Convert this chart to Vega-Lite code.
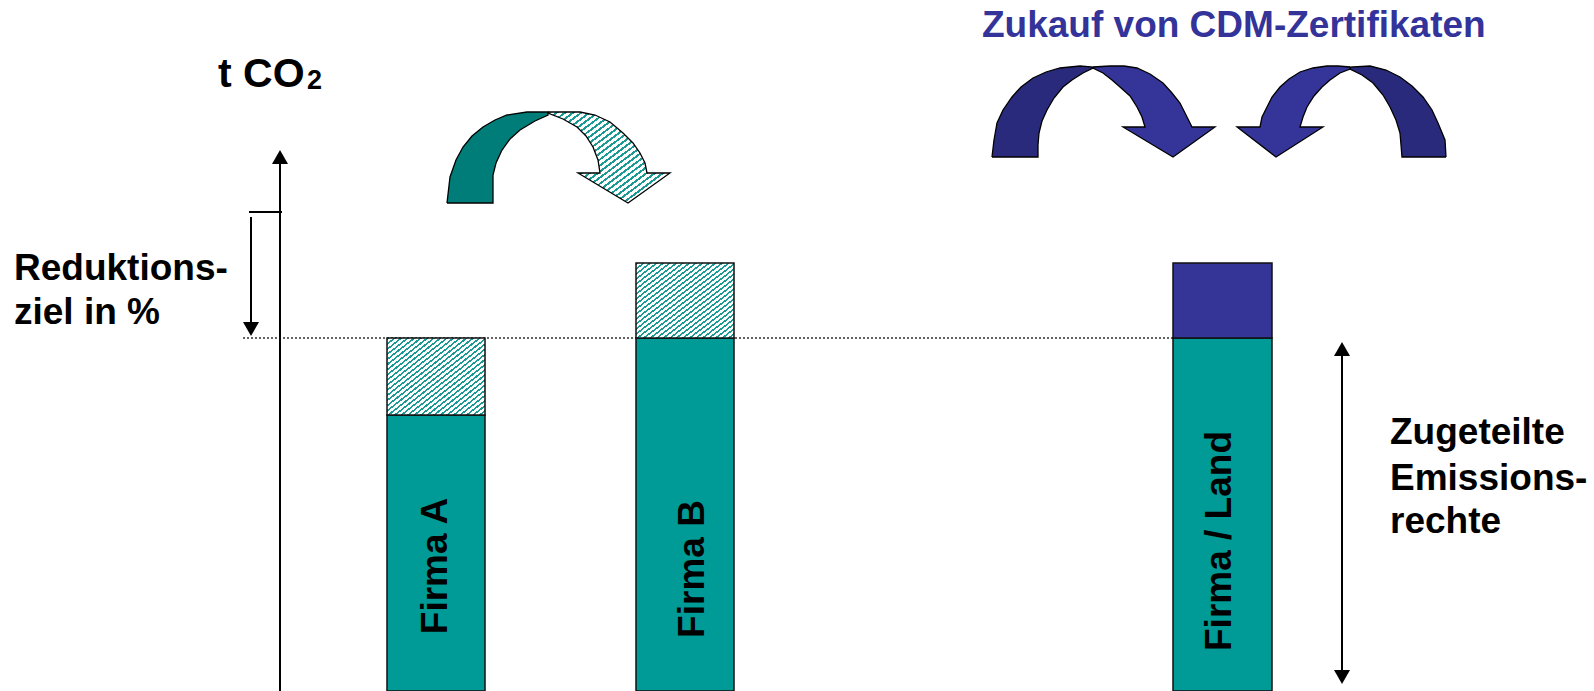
{
  "$schema": "https://vega.github.io/schema/vega-lite/v6.json",
  "width": 1594,
  "height": 691,
  "autosize": "none",
  "padding": 0,
  "background": "white",
  "config": {"view": {"stroke": null}},
  "datasets": {
    "bars": [
      {"name": "Firma A", "kind": "teal", "x": 387, "x2": 485, "y": 0, "y2": 276},
      {"name": "Firma A", "kind": "hatch", "x": 387, "x2": 485, "y": 276, "y2": 353},
      {"name": "Firma B", "kind": "teal", "x": 636, "x2": 734, "y": 0, "y2": 353},
      {"name": "Firma B", "kind": "hatch", "x": 636, "x2": 734, "y": 353, "y2": 428},
      {"name": "Firma / Land", "kind": "teal", "x": 1173, "x2": 1272, "y": 0, "y2": 353},
      {"name": "Firma / Land", "kind": "blue", "x": 1173, "x2": 1272, "y": 353, "y2": 428}
    ],
    "lines": [
      {"kind": "solid", "x": 280, "x2": 280, "y": 0, "y2": 530},
      {"kind": "solid", "x": 249, "x2": 282, "y": 479, "y2": 479},
      {"kind": "solid", "x": 251, "x2": 251, "y": 474, "y2": 360},
      {"kind": "solid", "x": 1342, "x2": 1342, "y": 340, "y2": 16},
      {"kind": "dotted", "x": 243, "x2": 1173, "y": 353, "y2": 353}
    ],
    "heads": [
      {"dir": "up", "x": 280, "y": 534},
      {"dir": "down", "x": 251, "y": 362},
      {"dir": "up", "x": 1342, "y": 342},
      {"dir": "down", "x": 1342, "y": 14}
    ],
    "arrows": [
      {"role": "tealBack", "part": "t1", "i": 0, "x": 447, "y": 488},
      {"role": "tealBack", "part": "t1", "i": 1, "x": 450, "y": 514},
      {"role": "tealBack", "part": "t1", "i": 2, "x": 456, "y": 531},
      {"role": "tealBack", "part": "t1", "i": 3, "x": 463, "y": 544},
      {"role": "tealBack", "part": "t1", "i": 4, "x": 472, "y": 555},
      {"role": "tealBack", "part": "t1", "i": 5, "x": 483, "y": 564},
      {"role": "tealBack", "part": "t1", "i": 6, "x": 495, "y": 571},
      {"role": "tealBack", "part": "t1", "i": 7, "x": 507, "y": 576},
      {"role": "tealBack", "part": "t1", "i": 8, "x": 527, "y": 579},
      {"role": "tealBack", "part": "t1", "i": 9, "x": 548, "y": 579},
      {"role": "tealBack", "part": "t1", "i": 10, "x": 548, "y": 576},
      {"role": "tealBack", "part": "t1", "i": 11, "x": 535, "y": 570},
      {"role": "tealBack", "part": "t1", "i": 12, "x": 520, "y": 561},
      {"role": "tealBack", "part": "t1", "i": 13, "x": 510, "y": 552},
      {"role": "tealBack", "part": "t1", "i": 14, "x": 502, "y": 541},
      {"role": "tealBack", "part": "t1", "i": 15, "x": 496, "y": 528},
      {"role": "tealBack", "part": "t1", "i": 16, "x": 493, "y": 516},
      {"role": "tealBack", "part": "t1", "i": 17, "x": 493, "y": 488},
      {"role": "tealBack", "part": "t1", "i": 18, "x": 447, "y": 488},
      {"role": "tealFront", "part": "t2", "i": 0, "x": 548, "y": 579},
      {"role": "tealFront", "part": "t2", "i": 1, "x": 565, "y": 579},
      {"role": "tealFront", "part": "t2", "i": 2, "x": 580, "y": 579},
      {"role": "tealFront", "part": "t2", "i": 3, "x": 595, "y": 576},
      {"role": "tealFront", "part": "t2", "i": 4, "x": 610, "y": 569},
      {"role": "tealFront", "part": "t2", "i": 5, "x": 623, "y": 558},
      {"role": "tealFront", "part": "t2", "i": 6, "x": 633, "y": 548},
      {"role": "tealFront", "part": "t2", "i": 7, "x": 640, "y": 538},
      {"role": "tealFront", "part": "t2", "i": 8, "x": 645, "y": 528},
      {"role": "tealFront", "part": "t2", "i": 9, "x": 647, "y": 518},
      {"role": "tealFront", "part": "t2", "i": 10, "x": 670, "y": 518},
      {"role": "tealFront", "part": "t2", "i": 11, "x": 628, "y": 488},
      {"role": "tealFront", "part": "t2", "i": 12, "x": 578, "y": 518},
      {"role": "tealFront", "part": "t2", "i": 13, "x": 600, "y": 518},
      {"role": "tealFront", "part": "t2", "i": 14, "x": 598, "y": 531},
      {"role": "tealFront", "part": "t2", "i": 15, "x": 593, "y": 544},
      {"role": "tealFront", "part": "t2", "i": 16, "x": 586, "y": 555},
      {"role": "tealFront", "part": "t2", "i": 17, "x": 577, "y": 564},
      {"role": "tealFront", "part": "t2", "i": 18, "x": 563, "y": 572},
      {"role": "tealFront", "part": "t2", "i": 19, "x": 548, "y": 578},
      {"role": "tealFront", "part": "t2", "i": 20, "x": 548, "y": 579},
      {"role": "blueBack", "part": "bL1", "i": 0, "x": 992, "y": 534},
      {"role": "blueBack", "part": "bL1", "i": 1, "x": 994, "y": 551},
      {"role": "blueBack", "part": "bL1", "i": 2, "x": 997, "y": 568},
      {"role": "blueBack", "part": "bL1", "i": 3, "x": 1003, "y": 581},
      {"role": "blueBack", "part": "bL1", "i": 4, "x": 1012, "y": 594},
      {"role": "blueBack", "part": "bL1", "i": 5, "x": 1021, "y": 604},
      {"role": "blueBack", "part": "bL1", "i": 6, "x": 1033, "y": 613},
      {"role": "blueBack", "part": "bL1", "i": 7, "x": 1046, "y": 619},
      {"role": "blueBack", "part": "bL1", "i": 8, "x": 1060, "y": 623},
      {"role": "blueBack", "part": "bL1", "i": 9, "x": 1080, "y": 625},
      {"role": "blueBack", "part": "bL1", "i": 10, "x": 1093, "y": 624},
      {"role": "blueBack", "part": "bL1", "i": 11, "x": 1093, "y": 623},
      {"role": "blueBack", "part": "bL1", "i": 12, "x": 1083, "y": 618},
      {"role": "blueBack", "part": "bL1", "i": 13, "x": 1072, "y": 611},
      {"role": "blueBack", "part": "bL1", "i": 14, "x": 1063, "y": 604},
      {"role": "blueBack", "part": "bL1", "i": 15, "x": 1054, "y": 593},
      {"role": "blueBack", "part": "bL1", "i": 16, "x": 1047, "y": 581},
      {"role": "blueBack", "part": "bL1", "i": 17, "x": 1042, "y": 570},
      {"role": "blueBack", "part": "bL1", "i": 18, "x": 1039, "y": 558},
      {"role": "blueBack", "part": "bL1", "i": 19, "x": 1038, "y": 546},
      {"role": "blueBack", "part": "bL1", "i": 20, "x": 1038, "y": 534},
      {"role": "blueBack", "part": "bL1", "i": 21, "x": 992, "y": 534},
      {"role": "blueFront", "part": "bL2", "i": 0, "x": 1093, "y": 624},
      {"role": "blueFront", "part": "bL2", "i": 1, "x": 1110, "y": 625},
      {"role": "blueFront", "part": "bL2", "i": 2, "x": 1124, "y": 625},
      {"role": "blueFront", "part": "bL2", "i": 3, "x": 1137, "y": 623},
      {"role": "blueFront", "part": "bL2", "i": 4, "x": 1150, "y": 617},
      {"role": "blueFront", "part": "bL2", "i": 5, "x": 1163, "y": 608},
      {"role": "blueFront", "part": "bL2", "i": 6, "x": 1172, "y": 598},
      {"role": "blueFront", "part": "bL2", "i": 7, "x": 1180, "y": 588},
      {"role": "blueFront", "part": "bL2", "i": 8, "x": 1186, "y": 576},
      {"role": "blueFront", "part": "bL2", "i": 9, "x": 1192, "y": 564},
      {"role": "blueFront", "part": "bL2", "i": 10, "x": 1215, "y": 564},
      {"role": "blueFront", "part": "bL2", "i": 11, "x": 1173, "y": 534},
      {"role": "blueFront", "part": "bL2", "i": 12, "x": 1123, "y": 564},
      {"role": "blueFront", "part": "bL2", "i": 13, "x": 1145, "y": 564},
      {"role": "blueFront", "part": "bL2", "i": 14, "x": 1142, "y": 574},
      {"role": "blueFront", "part": "bL2", "i": 15, "x": 1137, "y": 584},
      {"role": "blueFront", "part": "bL2", "i": 16, "x": 1130, "y": 595},
      {"role": "blueFront", "part": "bL2", "i": 17, "x": 1120, "y": 604},
      {"role": "blueFront", "part": "bL2", "i": 18, "x": 1112, "y": 611},
      {"role": "blueFront", "part": "bL2", "i": 19, "x": 1103, "y": 618},
      {"role": "blueFront", "part": "bL2", "i": 20, "x": 1093, "y": 623},
      {"role": "blueFront", "part": "bL2", "i": 21, "x": 1093, "y": 624},
      {"role": "blueBack", "part": "bR1", "i": 0, "x": 1446, "y": 534},
      {"role": "blueBack", "part": "bR1", "i": 1, "x": 1445, "y": 551},
      {"role": "blueBack", "part": "bR1", "i": 2, "x": 1438, "y": 568},
      {"role": "blueBack", "part": "bR1", "i": 3, "x": 1432, "y": 581},
      {"role": "blueBack", "part": "bR1", "i": 4, "x": 1423, "y": 594},
      {"role": "blueBack", "part": "bR1", "i": 5, "x": 1412, "y": 605},
      {"role": "blueBack", "part": "bR1", "i": 6, "x": 1400, "y": 614},
      {"role": "blueBack", "part": "bR1", "i": 7, "x": 1386, "y": 621},
      {"role": "blueBack", "part": "bR1", "i": 8, "x": 1370, "y": 625},
      {"role": "blueBack", "part": "bR1", "i": 9, "x": 1350, "y": 624},
      {"role": "blueBack", "part": "bR1", "i": 10, "x": 1350, "y": 622},
      {"role": "blueBack", "part": "bR1", "i": 11, "x": 1362, "y": 616},
      {"role": "blueBack", "part": "bR1", "i": 12, "x": 1373, "y": 608},
      {"role": "blueBack", "part": "bR1", "i": 13, "x": 1383, "y": 596},
      {"role": "blueBack", "part": "bR1", "i": 14, "x": 1390, "y": 584},
      {"role": "blueBack", "part": "bR1", "i": 15, "x": 1396, "y": 571},
      {"role": "blueBack", "part": "bR1", "i": 16, "x": 1400, "y": 558},
      {"role": "blueBack", "part": "bR1", "i": 17, "x": 1401, "y": 546},
      {"role": "blueBack", "part": "bR1", "i": 18, "x": 1402, "y": 534},
      {"role": "blueBack", "part": "bR1", "i": 19, "x": 1446, "y": 534},
      {"role": "blueFront", "part": "bR2", "i": 0, "x": 1350, "y": 624},
      {"role": "blueFront", "part": "bR2", "i": 1, "x": 1338, "y": 625},
      {"role": "blueFront", "part": "bR2", "i": 2, "x": 1327, "y": 625},
      {"role": "blueFront", "part": "bR2", "i": 3, "x": 1313, "y": 623},
      {"role": "blueFront", "part": "bR2", "i": 4, "x": 1300, "y": 619},
      {"role": "blueFront", "part": "bR2", "i": 5, "x": 1289, "y": 612},
      {"role": "blueFront", "part": "bR2", "i": 6, "x": 1280, "y": 604},
      {"role": "blueFront", "part": "bR2", "i": 7, "x": 1272, "y": 594},
      {"role": "blueFront", "part": "bR2", "i": 8, "x": 1267, "y": 584},
      {"role": "blueFront", "part": "bR2", "i": 9, "x": 1262, "y": 574},
      {"role": "blueFront", "part": "bR2", "i": 10, "x": 1260, "y": 564},
      {"role": "blueFront", "part": "bR2", "i": 11, "x": 1237, "y": 564},
      {"role": "blueFront", "part": "bR2", "i": 12, "x": 1276, "y": 534},
      {"role": "blueFront", "part": "bR2", "i": 13, "x": 1323, "y": 564},
      {"role": "blueFront", "part": "bR2", "i": 14, "x": 1300, "y": 564},
      {"role": "blueFront", "part": "bR2", "i": 15, "x": 1303, "y": 574},
      {"role": "blueFront", "part": "bR2", "i": 16, "x": 1307, "y": 584},
      {"role": "blueFront", "part": "bR2", "i": 17, "x": 1314, "y": 595},
      {"role": "blueFront", "part": "bR2", "i": 18, "x": 1322, "y": 604},
      {"role": "blueFront", "part": "bR2", "i": 19, "x": 1330, "y": 611},
      {"role": "blueFront", "part": "bR2", "i": 20, "x": 1340, "y": 618},
      {"role": "blueFront", "part": "bR2", "i": 21, "x": 1350, "y": 622},
      {"role": "blueFront", "part": "bR2", "i": 22, "x": 1350, "y": 624}
    ],
    "labels": [
      {"kind": "note", "text": "Reduktions-", "x": 14, "y": 411},
      {"kind": "note", "text": "ziel in %", "x": 14, "y": 367},
      {"kind": "note", "text": "Zugeteilte", "x": 1390, "y": 247},
      {"kind": "note", "text": "Emissions-", "x": 1390, "y": 201},
      {"kind": "note", "text": "rechte", "x": 1390, "y": 158},
      {"kind": "axis", "text": "t CO", "x": 218, "y": 604},
      {"kind": "sub", "text": "2", "x": 307, "y": 602},
      {"kind": "title", "text": "Zukauf von CDM-Zertifikaten", "x": 982, "y": 654},
      {"kind": "bar", "text": "Firma A", "x": 436, "y": 125},
      {"kind": "bar", "text": "Firma B", "x": 693, "y": 122},
      {"kind": "bar", "text": "Firma / Land", "x": 1220, "y": 150}
    ]
  },
  "encoding": {
    "x": {"field": "x", "type": "quantitative", "scale": {"domain": [0, 1594], "nice": false, "zero": false}, "axis": null},
    "y": {"field": "y", "type": "quantitative", "scale": {"domain": [0, 691], "nice": false, "zero": false}, "axis": null}
  },
  "layer": [
    {
      "data": {"name": "lines"},
      "transform": [{"filter": "datum.kind === 'dotted'"}],
      "mark": {"type": "rule", "stroke": "#333333", "strokeWidth": 1.3, "strokeDash": [2, 2]},
      "encoding": {"x2": {"field": "x2"}, "y2": {"field": "y2"}}
    },
    {
      "data": {"name": "bars"},
      "transform": [{"filter": "datum.kind !== 'hatch'"}],
      "mark": {"type": "rect", "stroke": "#111111", "strokeWidth": 1.5},
      "encoding": {
        "x2": {"field": "x2"},
        "y2": {"field": "y2"},
        "fill": {"field": "kind", "type": "nominal", "scale": {"domain": ["teal", "blue"], "range": ["#009a97", "#343597"]}, "legend": null}
      }
    },
    {
      "data": {"name": "bars"},
      "transform": [{"filter": "datum.kind === 'hatch'"}],
      "mark": {
        "type": "rect", "stroke": "#111111", "strokeWidth": 1.5,
        "fill": {"gradient": "linear", "x1": 0, "y1": 0, "x2": 1, "y2": 1, "stops": [
          {"offset": 0, "color": "#1a9995"}, {"offset": 0.0133, "color": "#1a9995"}, {"offset": 0.0133, "color": "#ffffff"}, {"offset": 0.0333, "color": "#ffffff"},
          {"offset": 0.0333, "color": "#1a9995"}, {"offset": 0.0467, "color": "#1a9995"}, {"offset": 0.0467, "color": "#ffffff"}, {"offset": 0.0667, "color": "#ffffff"},
          {"offset": 0.0667, "color": "#1a9995"}, {"offset": 0.08, "color": "#1a9995"}, {"offset": 0.08, "color": "#ffffff"}, {"offset": 0.1, "color": "#ffffff"},
          {"offset": 0.1, "color": "#1a9995"}, {"offset": 0.1133, "color": "#1a9995"}, {"offset": 0.1133, "color": "#ffffff"}, {"offset": 0.1333, "color": "#ffffff"},
          {"offset": 0.1333, "color": "#1a9995"}, {"offset": 0.1467, "color": "#1a9995"}, {"offset": 0.1467, "color": "#ffffff"}, {"offset": 0.1667, "color": "#ffffff"},
          {"offset": 0.1667, "color": "#1a9995"}, {"offset": 0.18, "color": "#1a9995"}, {"offset": 0.18, "color": "#ffffff"}, {"offset": 0.2, "color": "#ffffff"},
          {"offset": 0.2, "color": "#1a9995"}, {"offset": 0.2133, "color": "#1a9995"}, {"offset": 0.2133, "color": "#ffffff"}, {"offset": 0.2333, "color": "#ffffff"},
          {"offset": 0.2333, "color": "#1a9995"}, {"offset": 0.2467, "color": "#1a9995"}, {"offset": 0.2467, "color": "#ffffff"}, {"offset": 0.2667, "color": "#ffffff"},
          {"offset": 0.2667, "color": "#1a9995"}, {"offset": 0.28, "color": "#1a9995"}, {"offset": 0.28, "color": "#ffffff"}, {"offset": 0.3, "color": "#ffffff"},
          {"offset": 0.3, "color": "#1a9995"}, {"offset": 0.3133, "color": "#1a9995"}, {"offset": 0.3133, "color": "#ffffff"}, {"offset": 0.3333, "color": "#ffffff"},
          {"offset": 0.3333, "color": "#1a9995"}, {"offset": 0.3467, "color": "#1a9995"}, {"offset": 0.3467, "color": "#ffffff"}, {"offset": 0.3667, "color": "#ffffff"},
          {"offset": 0.3667, "color": "#1a9995"}, {"offset": 0.38, "color": "#1a9995"}, {"offset": 0.38, "color": "#ffffff"}, {"offset": 0.4, "color": "#ffffff"},
          {"offset": 0.4, "color": "#1a9995"}, {"offset": 0.4133, "color": "#1a9995"}, {"offset": 0.4133, "color": "#ffffff"}, {"offset": 0.4333, "color": "#ffffff"},
          {"offset": 0.4333, "color": "#1a9995"}, {"offset": 0.4467, "color": "#1a9995"}, {"offset": 0.4467, "color": "#ffffff"}, {"offset": 0.4667, "color": "#ffffff"},
          {"offset": 0.4667, "color": "#1a9995"}, {"offset": 0.48, "color": "#1a9995"}, {"offset": 0.48, "color": "#ffffff"}, {"offset": 0.5, "color": "#ffffff"},
          {"offset": 0.5, "color": "#1a9995"}, {"offset": 0.5133, "color": "#1a9995"}, {"offset": 0.5133, "color": "#ffffff"}, {"offset": 0.5333, "color": "#ffffff"},
          {"offset": 0.5333, "color": "#1a9995"}, {"offset": 0.5467, "color": "#1a9995"}, {"offset": 0.5467, "color": "#ffffff"}, {"offset": 0.5667, "color": "#ffffff"},
          {"offset": 0.5667, "color": "#1a9995"}, {"offset": 0.58, "color": "#1a9995"}, {"offset": 0.58, "color": "#ffffff"}, {"offset": 0.6, "color": "#ffffff"},
          {"offset": 0.6, "color": "#1a9995"}, {"offset": 0.6133, "color": "#1a9995"}, {"offset": 0.6133, "color": "#ffffff"}, {"offset": 0.6333, "color": "#ffffff"},
          {"offset": 0.6333, "color": "#1a9995"}, {"offset": 0.6467, "color": "#1a9995"}, {"offset": 0.6467, "color": "#ffffff"}, {"offset": 0.6667, "color": "#ffffff"},
          {"offset": 0.6667, "color": "#1a9995"}, {"offset": 0.68, "color": "#1a9995"}, {"offset": 0.68, "color": "#ffffff"}, {"offset": 0.7, "color": "#ffffff"},
          {"offset": 0.7, "color": "#1a9995"}, {"offset": 0.7133, "color": "#1a9995"}, {"offset": 0.7133, "color": "#ffffff"}, {"offset": 0.7333, "color": "#ffffff"},
          {"offset": 0.7333, "color": "#1a9995"}, {"offset": 0.7467, "color": "#1a9995"}, {"offset": 0.7467, "color": "#ffffff"}, {"offset": 0.7667, "color": "#ffffff"},
          {"offset": 0.7667, "color": "#1a9995"}, {"offset": 0.78, "color": "#1a9995"}, {"offset": 0.78, "color": "#ffffff"}, {"offset": 0.8, "color": "#ffffff"},
          {"offset": 0.8, "color": "#1a9995"}, {"offset": 0.8133, "color": "#1a9995"}, {"offset": 0.8133, "color": "#ffffff"}, {"offset": 0.8333, "color": "#ffffff"},
          {"offset": 0.8333, "color": "#1a9995"}, {"offset": 0.8467, "color": "#1a9995"}, {"offset": 0.8467, "color": "#ffffff"}, {"offset": 0.8667, "color": "#ffffff"},
          {"offset": 0.8667, "color": "#1a9995"}, {"offset": 0.88, "color": "#1a9995"}, {"offset": 0.88, "color": "#ffffff"}, {"offset": 0.9, "color": "#ffffff"},
          {"offset": 0.9, "color": "#1a9995"}, {"offset": 0.9133, "color": "#1a9995"}, {"offset": 0.9133, "color": "#ffffff"}, {"offset": 0.9333, "color": "#ffffff"},
          {"offset": 0.9333, "color": "#1a9995"}, {"offset": 0.9467, "color": "#1a9995"}, {"offset": 0.9467, "color": "#ffffff"}, {"offset": 0.9667, "color": "#ffffff"},
          {"offset": 0.9667, "color": "#1a9995"}, {"offset": 0.98, "color": "#1a9995"}, {"offset": 0.98, "color": "#ffffff"}, {"offset": 1, "color": "#ffffff"}
        ]}
      },
      "encoding": {"x2": {"field": "x2"}, "y2": {"field": "y2"}}
    },
    {
      "data": {"name": "lines"},
      "transform": [{"filter": "datum.kind === 'solid'"}],
      "mark": {"type": "rule", "stroke": "#000000", "strokeWidth": 2},
      "encoding": {"x2": {"field": "x2"}, "y2": {"field": "y2"}}
    },
    {
      "data": {"name": "heads"},
      "mark": {"type": "point", "filled": true, "fill": "#000000", "stroke": null, "size": 256, "opacity": 1},
      "encoding": {
        "shape": {"field": "dir", "type": "nominal", "scale": {"domain": ["up", "down"], "range": ["triangle-up", "triangle-down"]}, "legend": null}
      }
    },
    {
      "data": {"name": "arrows"},
      "transform": [{"filter": "datum.role === 'tealBack'"}],
      "mark": {"type": "line", "fill": "#007c79", "stroke": "#000000", "strokeWidth": 1.3, "strokeJoin": "miter"},
      "encoding": {"order": {"field": "i", "type": "quantitative"}, "detail": {"field": "part"}}
    },
    {
      "data": {"name": "arrows"},
      "transform": [{"filter": "datum.role === 'tealFront'"}],
      "mark": {
        "type": "line", "stroke": "#000000", "strokeWidth": 1.3, "strokeJoin": "miter",
        "fill": {"gradient": "linear", "x1": 0, "y1": 0, "x2": 1, "y2": 1, "stops": [
          {"offset": 0, "color": "#1a9995"}, {"offset": 0.0133, "color": "#1a9995"}, {"offset": 0.0133, "color": "#ffffff"}, {"offset": 0.0333, "color": "#ffffff"},
          {"offset": 0.0333, "color": "#1a9995"}, {"offset": 0.0467, "color": "#1a9995"}, {"offset": 0.0467, "color": "#ffffff"}, {"offset": 0.0667, "color": "#ffffff"},
          {"offset": 0.0667, "color": "#1a9995"}, {"offset": 0.08, "color": "#1a9995"}, {"offset": 0.08, "color": "#ffffff"}, {"offset": 0.1, "color": "#ffffff"},
          {"offset": 0.1, "color": "#1a9995"}, {"offset": 0.1133, "color": "#1a9995"}, {"offset": 0.1133, "color": "#ffffff"}, {"offset": 0.1333, "color": "#ffffff"},
          {"offset": 0.1333, "color": "#1a9995"}, {"offset": 0.1467, "color": "#1a9995"}, {"offset": 0.1467, "color": "#ffffff"}, {"offset": 0.1667, "color": "#ffffff"},
          {"offset": 0.1667, "color": "#1a9995"}, {"offset": 0.18, "color": "#1a9995"}, {"offset": 0.18, "color": "#ffffff"}, {"offset": 0.2, "color": "#ffffff"},
          {"offset": 0.2, "color": "#1a9995"}, {"offset": 0.2133, "color": "#1a9995"}, {"offset": 0.2133, "color": "#ffffff"}, {"offset": 0.2333, "color": "#ffffff"},
          {"offset": 0.2333, "color": "#1a9995"}, {"offset": 0.2467, "color": "#1a9995"}, {"offset": 0.2467, "color": "#ffffff"}, {"offset": 0.2667, "color": "#ffffff"},
          {"offset": 0.2667, "color": "#1a9995"}, {"offset": 0.28, "color": "#1a9995"}, {"offset": 0.28, "color": "#ffffff"}, {"offset": 0.3, "color": "#ffffff"},
          {"offset": 0.3, "color": "#1a9995"}, {"offset": 0.3133, "color": "#1a9995"}, {"offset": 0.3133, "color": "#ffffff"}, {"offset": 0.3333, "color": "#ffffff"},
          {"offset": 0.3333, "color": "#1a9995"}, {"offset": 0.3467, "color": "#1a9995"}, {"offset": 0.3467, "color": "#ffffff"}, {"offset": 0.3667, "color": "#ffffff"},
          {"offset": 0.3667, "color": "#1a9995"}, {"offset": 0.38, "color": "#1a9995"}, {"offset": 0.38, "color": "#ffffff"}, {"offset": 0.4, "color": "#ffffff"},
          {"offset": 0.4, "color": "#1a9995"}, {"offset": 0.4133, "color": "#1a9995"}, {"offset": 0.4133, "color": "#ffffff"}, {"offset": 0.4333, "color": "#ffffff"},
          {"offset": 0.4333, "color": "#1a9995"}, {"offset": 0.4467, "color": "#1a9995"}, {"offset": 0.4467, "color": "#ffffff"}, {"offset": 0.4667, "color": "#ffffff"},
          {"offset": 0.4667, "color": "#1a9995"}, {"offset": 0.48, "color": "#1a9995"}, {"offset": 0.48, "color": "#ffffff"}, {"offset": 0.5, "color": "#ffffff"},
          {"offset": 0.5, "color": "#1a9995"}, {"offset": 0.5133, "color": "#1a9995"}, {"offset": 0.5133, "color": "#ffffff"}, {"offset": 0.5333, "color": "#ffffff"},
          {"offset": 0.5333, "color": "#1a9995"}, {"offset": 0.5467, "color": "#1a9995"}, {"offset": 0.5467, "color": "#ffffff"}, {"offset": 0.5667, "color": "#ffffff"},
          {"offset": 0.5667, "color": "#1a9995"}, {"offset": 0.58, "color": "#1a9995"}, {"offset": 0.58, "color": "#ffffff"}, {"offset": 0.6, "color": "#ffffff"},
          {"offset": 0.6, "color": "#1a9995"}, {"offset": 0.6133, "color": "#1a9995"}, {"offset": 0.6133, "color": "#ffffff"}, {"offset": 0.6333, "color": "#ffffff"},
          {"offset": 0.6333, "color": "#1a9995"}, {"offset": 0.6467, "color": "#1a9995"}, {"offset": 0.6467, "color": "#ffffff"}, {"offset": 0.6667, "color": "#ffffff"},
          {"offset": 0.6667, "color": "#1a9995"}, {"offset": 0.68, "color": "#1a9995"}, {"offset": 0.68, "color": "#ffffff"}, {"offset": 0.7, "color": "#ffffff"},
          {"offset": 0.7, "color": "#1a9995"}, {"offset": 0.7133, "color": "#1a9995"}, {"offset": 0.7133, "color": "#ffffff"}, {"offset": 0.7333, "color": "#ffffff"},
          {"offset": 0.7333, "color": "#1a9995"}, {"offset": 0.7467, "color": "#1a9995"}, {"offset": 0.7467, "color": "#ffffff"}, {"offset": 0.7667, "color": "#ffffff"},
          {"offset": 0.7667, "color": "#1a9995"}, {"offset": 0.78, "color": "#1a9995"}, {"offset": 0.78, "color": "#ffffff"}, {"offset": 0.8, "color": "#ffffff"},
          {"offset": 0.8, "color": "#1a9995"}, {"offset": 0.8133, "color": "#1a9995"}, {"offset": 0.8133, "color": "#ffffff"}, {"offset": 0.8333, "color": "#ffffff"},
          {"offset": 0.8333, "color": "#1a9995"}, {"offset": 0.8467, "color": "#1a9995"}, {"offset": 0.8467, "color": "#ffffff"}, {"offset": 0.8667, "color": "#ffffff"},
          {"offset": 0.8667, "color": "#1a9995"}, {"offset": 0.88, "color": "#1a9995"}, {"offset": 0.88, "color": "#ffffff"}, {"offset": 0.9, "color": "#ffffff"},
          {"offset": 0.9, "color": "#1a9995"}, {"offset": 0.9133, "color": "#1a9995"}, {"offset": 0.9133, "color": "#ffffff"}, {"offset": 0.9333, "color": "#ffffff"},
          {"offset": 0.9333, "color": "#1a9995"}, {"offset": 0.9467, "color": "#1a9995"}, {"offset": 0.9467, "color": "#ffffff"}, {"offset": 0.9667, "color": "#ffffff"},
          {"offset": 0.9667, "color": "#1a9995"}, {"offset": 0.98, "color": "#1a9995"}, {"offset": 0.98, "color": "#ffffff"}, {"offset": 1, "color": "#ffffff"}
        ]}
      },
      "encoding": {"order": {"field": "i", "type": "quantitative"}, "detail": {"field": "part"}}
    },
    {
      "data": {"name": "arrows"},
      "transform": [{"filter": "datum.role === 'blueBack'"}],
      "mark": {"type": "line", "fill": "#2a2a7c", "stroke": "#000000", "strokeWidth": 1.3, "strokeJoin": "miter"},
      "encoding": {"order": {"field": "i", "type": "quantitative"}, "detail": {"field": "part"}}
    },
    {
      "data": {"name": "arrows"},
      "transform": [{"filter": "datum.role === 'blueFront'"}],
      "mark": {"type": "line", "fill": "#353599", "stroke": "#000000", "strokeWidth": 1.3, "strokeJoin": "miter"},
      "encoding": {"order": {"field": "i", "type": "quantitative"}, "detail": {"field": "part"}}
    },
    {
      "data": {"name": "labels"},
      "transform": [{"filter": "datum.kind === 'note'"}],
      "mark": {"type": "text", "font": "Liberation Sans", "fontWeight": "bold", "fontSize": 37, "align": "left", "baseline": "alphabetic", "color": "#000000"},
      "encoding": {"text": {"field": "text"}}
    },
    {
      "data": {"name": "labels"},
      "transform": [{"filter": "datum.kind === 'axis'"}],
      "mark": {"type": "text", "font": "Liberation Sans", "fontWeight": "bold", "fontSize": 41, "align": "left", "baseline": "alphabetic", "color": "#000000"},
      "encoding": {"text": {"field": "text"}}
    },
    {
      "data": {"name": "labels"},
      "transform": [{"filter": "datum.kind === 'sub'"}],
      "mark": {"type": "text", "font": "Liberation Sans", "fontWeight": "bold", "fontSize": 27, "align": "left", "baseline": "alphabetic", "color": "#000000"},
      "encoding": {"text": {"field": "text"}}
    },
    {
      "data": {"name": "labels"},
      "transform": [{"filter": "datum.kind === 'title'"}],
      "mark": {"type": "text", "font": "Liberation Sans", "fontWeight": "bold", "fontSize": 37, "align": "left", "baseline": "alphabetic", "color": "#333399"},
      "encoding": {"text": {"field": "text"}}
    },
    {
      "data": {"name": "labels"},
      "transform": [{"filter": "datum.kind === 'bar'"}],
      "mark": {"type": "text", "font": "Liberation Sans", "fontWeight": "bold", "fontSize": 37, "align": "center", "baseline": "middle", "angle": 270, "color": "#000000"},
      "encoding": {"text": {"field": "text"}}
    }
  ]
}
